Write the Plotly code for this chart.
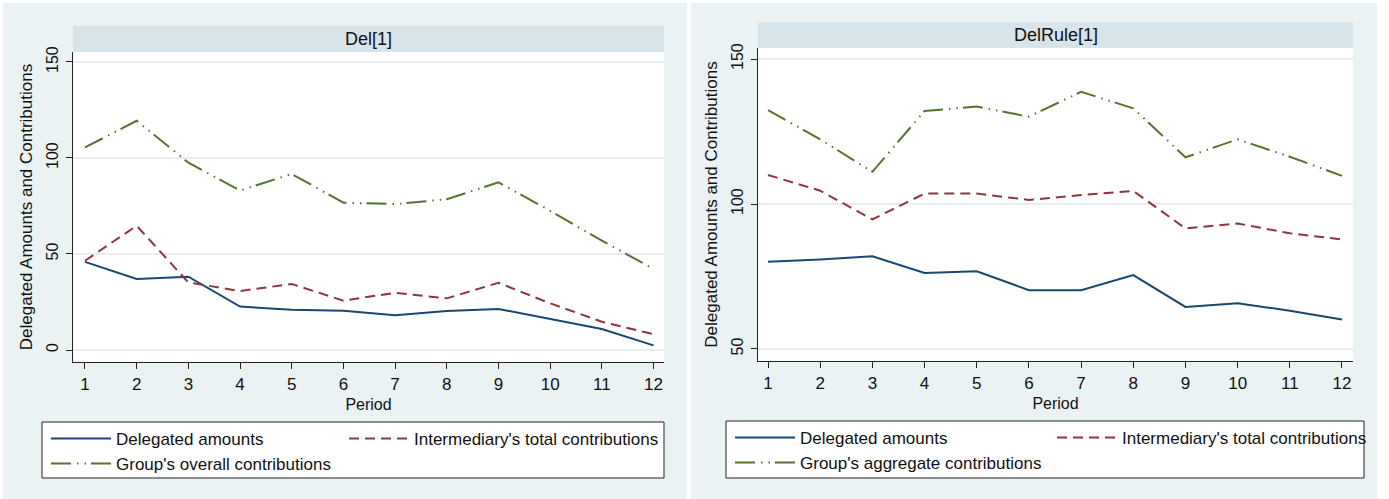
import plotly.graph_objects as go

W, H = 1389, 499

# ---- data -------------------------------------------------------------
periods = list(range(1, 13))
period_ticks = [str(p) for p in periods]

# Del[1] treatment
del_delegated = [45.9, 37.0, 38.2, 22.6, 21.0, 20.5, 18.1, 20.3, 21.4, 16.1, 10.9, 2.4]
del_intermediary = [46.5, 64.7, 35.2, 30.7, 34.4, 25.7, 29.8, 26.9, 35.0, 24.3, 14.7, 8.2]
del_group = [105.5, 119.4, 97.6, 83.0, 91.7, 76.7, 76.0, 78.5, 87.3, 72.5, 57.0, 42.2]

# DelRule[1] treatment
rule_delegated = [80.1, 80.9, 82.0, 76.2, 76.8, 70.3, 70.3, 75.5, 64.5, 65.8, 63.2, 60.2]
rule_intermediary = [110.0, 104.6, 94.7, 103.6, 103.6, 101.4, 103.1, 104.5, 91.6, 93.3, 89.9, 87.8]
rule_group = [132.4, 122.3, 111.1, 132.1, 133.6, 130.1, 138.7, 133.0, 116.1, 122.3, 116.3, 109.7]

left_ticks = [0, 50, 100, 150]
right_ticks = [50, 100, 150]

# ---- styling ----------------------------------------------------------
NAVY = "#1a476f"
MAROON = "#90353b"
GREEN = "#55752f"
PANEL_BG = "#eaf2f3"
STRIP_BG = "#d7e4e9"
GRID = "#e6eef0"
FONT = "Liberation Sans, Arial, sans-serif"

GREEN_DASH = "20px,6px,1.5px,6px,1.5px,5px"
RED_DASH = "10px,6px"


def fx(px):
    return px / W


def fy(py):
    return 1 - py / H


fig = go.Figure()

panels = [
    dict(xa="x", ya="y", data=(del_delegated, del_intermediary, del_group),
         group_name="Group's overall contributions", legs=("legend", "legend2", "legend3")),
    dict(xa="x2", ya="y2", data=(rule_delegated, rule_intermediary, rule_group),
         group_name="Group's aggregate contributions", legs=("legend4", "legend5", "legend6")),
]

for p in panels:
    d, i, g = p["data"]
    fig.add_trace(go.Scatter(x=periods, y=d, mode="lines", name="Delegated amounts",
                             line=dict(color=NAVY, width=2), xaxis=p["xa"], yaxis=p["ya"],
                             legend=p["legs"][0]))
    fig.add_trace(go.Scatter(x=periods, y=i, mode="lines", name="Intermediary's total contributions",
                             line=dict(color=MAROON, width=2, dash=RED_DASH),
                             xaxis=p["xa"], yaxis=p["ya"], legend=p["legs"][1]))
    fig.add_trace(go.Scatter(x=periods, y=g, mode="lines", name=p["group_name"],
                             line=dict(color=GREEN, width=2, dash=GREEN_DASH),
                             xaxis=p["xa"], yaxis=p["ya"], legend=p["legs"][2]))

xaxis_common = dict(
    tickmode="array", tickvals=periods, ticktext=period_ticks,
    ticks="outside", ticklen=6, tickcolor="#222", tickwidth=1,
    showline=True, linecolor="#222", linewidth=1.3, showgrid=False, zeroline=False,
    automargin=False,
    tickfont=dict(family=FONT, size=17, color="#111"),
    title=dict(text="Period", font=dict(family=FONT, size=16, color="#111"), standoff=6),
)
yaxis_common = dict(
    ticks="outside", ticklen=6, tickcolor="#222", tickwidth=1, tickangle=-90,
    ticklabelstandoff=1,
    showline=True, linecolor="#222", linewidth=1.3, showgrid=True, gridcolor=GRID,
    gridwidth=1.5, zeroline=False, automargin=False,
    tickfont=dict(family=FONT, size=16, color="#111"),
    title=dict(text="Delegated Amounts and Contributions",
               font=dict(family=FONT, size=17, color="#111"), standoff=7),
)

leg_common = dict(orientation="v", bgcolor="rgba(0,0,0,0)", borderwidth=0,
                  font=dict(family=FONT, size=17, color="#111"),
                  itemwidth=60, xanchor="left", yanchor="middle")

# legend entry anchors (left edge of the key line, row centre), in pixels
legend_spots = {
    "legend": (46, 439), "legend2": (344, 439), "legend3": (46, 464),
    "legend4": (730, 438), "legend5": (1052, 438), "legend6": (730, 463),
}

fig.update_layout(
    width=W, height=H, autosize=False,
    margin=dict(l=0, r=0, t=0, b=0),
    paper_bgcolor=PANEL_BG, plot_bgcolor="white",
    showlegend=True,
    xaxis=dict(domain=[fx(73), fx(664)], range=[0.768, 12.203], anchor="y", **xaxis_common),
    yaxis=dict(domain=[fy(362), fy(52)], range=[-6.25, 155.2], anchor="x",
               tickvals=left_ticks, **yaxis_common),
    xaxis2=dict(domain=[fx(758), fx(1353)], range=[0.808, 12.211], anchor="y2", **xaxis_common),
    yaxis2=dict(domain=[fy(361), fy(48)], range=[45.86, 153.8], anchor="x2",
                tickvals=right_ticks, **yaxis_common),
)
fig.update_layout({name: dict(x=fx(px), y=fy(py), **leg_common)
                   for name, (px, py) in legend_spots.items()})

shapes = [
    # white gaps around the two graph regions
    dict(x0=0, x1=1, y0=fy(0), y1=fy(3), fillcolor="white"),
    dict(x0=0, x1=fx(3), y0=0, y1=1, fillcolor="white"),
    dict(x0=fx(687), x1=fx(691), y0=0, y1=1, fillcolor="white"),
    dict(x0=fx(1377), x1=1, y0=0, y1=1, fillcolor="white"),
    # facet strips
    dict(x0=fx(73), x1=fx(664), y0=fy(52), y1=fy(26), fillcolor=STRIP_BG),
    dict(x0=fx(758), x1=fx(1353), y0=fy(48), y1=fy(22), fillcolor=STRIP_BG),
]
for s in shapes:
    fig.add_shape(type="rect", xref="paper", yref="paper", line=dict(width=0),
                  layer="below", **s)

# legend frames
for x0, x1, y0, y1 in [(42, 664, 422, 478), (726, 1364, 421, 478)]:
    fig.add_shape(type="rect", xref="paper", yref="paper",
                  x0=fx(x0), x1=fx(x1), y0=fy(y1), y1=fy(y0),
                  fillcolor="white", line=dict(color="#222", width=1), layer="below")

for text, cx, cy in [("Del[1]", (73 + 664) / 2, 39), ("DelRule[1]", (758 + 1353) / 2, 35)]:
    fig.add_annotation(text=text, x=fx(cx), y=fy(cy), xref="paper", yref="paper",
                       showarrow=False, xanchor="center", yanchor="middle",
                       font=dict(family=FONT, size=18, color="#111"))

fig.write_html("out.html")
